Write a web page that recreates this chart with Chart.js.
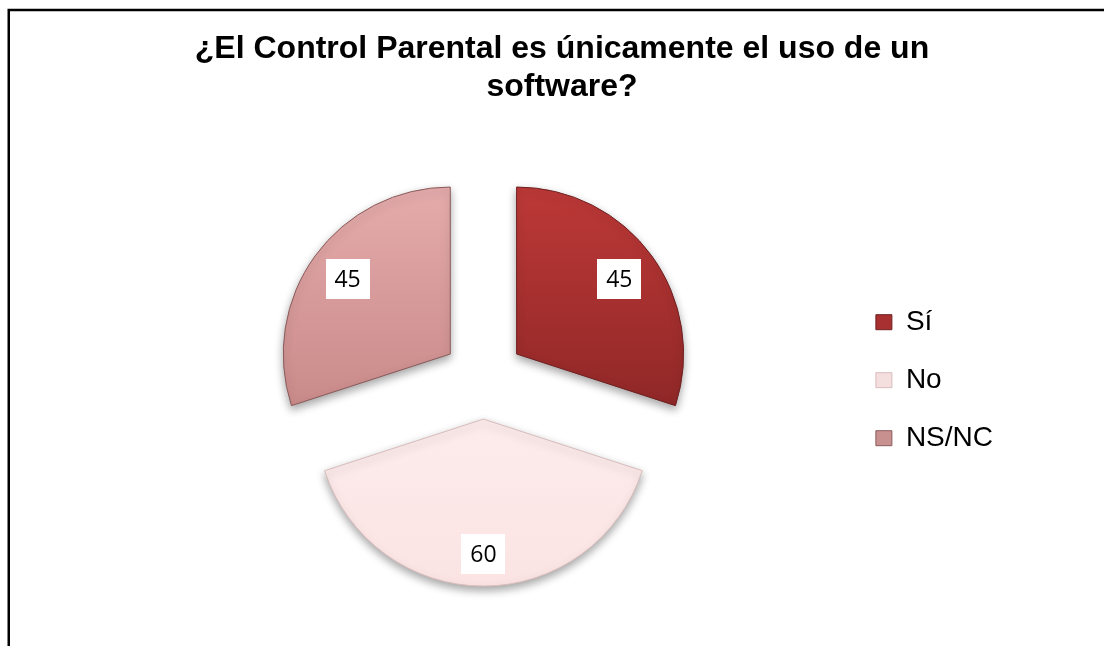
<!DOCTYPE html>
<html>
<head>
<meta charset="utf-8">
<script src="https://cdn.jsdelivr.net/npm/chart.js@4.4.1/dist/chart.umd.min.js"></script>
<style>
  html, body { margin: 0; padding: 0; background: #fff; }
  #wrap { width: 1104px; height: 646px; position: relative; }
</style>
</head>
<body>
<div id="wrap"><canvas id="pie"></canvas></div>
<script>
// data
var labels = ["Sí", "No", "NS/NC"];
var values = [45, 60, 45];
var chartTitle = ["¿El Control Parental es únicamente el uso de un", "software?"];

// colours (top / bottom of each slice, border, legend box)
var topColors = ["#bd3937", "#fdecec", "#e5abab"];
var bottomColors = ["#8f2727", "#fbe3e3", "#c98989"];
var borderColors = ["#6e1f1f", "#d9bcbc", "#8a5a5a"];
var legendColors = ["#a83030", "#f4dede", "#c99090"];

var RADIUS = 167;
var SHIFT = 41;
var labelPos = [0.76, 0.81, 0.76];

function sliceGradient(context) {
  var chart = context.chart;
  var area = chart.chartArea;
  var i = context.dataIndex;
  if (!area) return topColors[i];
  var cy = (area.top + area.bottom) / 2;
  var y0 = i === 1 ? cy : cy - RADIUS;
  var y1 = i === 1 ? cy + RADIUS : cy + RADIUS * 0.35;
  var g = chart.ctx.createLinearGradient(0, y0, 0, y1);
  g.addColorStop(0, topColors[i]);
  g.addColorStop(1, bottomColors[i]);
  return g;
}

// white background and the two frame lines
var frame = {
  id: "frame",
  beforeDraw(chart) {
    var ctx = chart.ctx;
    ctx.save();
    ctx.fillStyle = "#fff";
    ctx.fillRect(0, 0, chart.width, chart.height);
    ctx.strokeStyle = "#000";
    ctx.lineWidth = 2.5;
    ctx.beginPath();
    ctx.moveTo(8.75, chart.height);
    ctx.lineTo(8.75, 10);
    ctx.lineTo(chart.width, 10);
    ctx.stroke();
    ctx.restore();
  }
};

// pull every slice out along its bisector, with a soft shadow
var explode = {
  id: "explode",
  beforeDatasetDraw(chart, args) {
    var ctx = chart.ctx;
    args.meta.data.forEach(function (arc) {
      var mid = (arc.startAngle + arc.endAngle) / 2;
      ctx.save();
      ctx.translate(Math.cos(mid) * SHIFT, Math.sin(mid) * SHIFT);
      ctx.shadowColor = "rgba(0,0,0,0.35)";
      ctx.shadowBlur = 8;
      ctx.shadowOffsetY = 4;
      arc.draw(ctx);
      ctx.restore();
    });
    return false;
  },
  afterDatasetsDraw(chart) {
    var ctx = chart.ctx;
    var meta = chart.getDatasetMeta(0);
    ctx.save();
    ctx.font = "23px 'Open Sans', 'Noto Sans', sans-serif";
    ctx.textAlign = "center";
    ctx.textBaseline = "middle";
    meta.data.forEach(function (arc, i) {
      var mid = (arc.startAngle + arc.endAngle) / 2;
      var r = SHIFT + arc.outerRadius * labelPos[i];
      var x = arc.x + Math.cos(mid) * r;
      var y = arc.y + Math.sin(mid) * r;
      ctx.fillStyle = "#fff";
      ctx.fillRect(Math.round(x - 22), Math.round(y - 20), 44, 40);
      ctx.fillStyle = "#000";
      ctx.fillText(String(values[i]), x, y + 1);
    });
    ctx.restore();
  }
};

new Chart(document.getElementById("pie"), {
  type: "pie",
  data: {
    labels: labels,
    datasets: [
      {
        data: values,
        backgroundColor: sliceGradient,
        borderColor: borderColors,
        borderWidth: 1,
        radius: RADIUS,
      },
    ],
  },
  options: {
    responsive: true,
    maintainAspectRatio: false,
    animation: false,
    layout: { padding: { left: 121, right: 101, top: 0, bottom: 0 } },
    plugins: {
      title: {
        display: true,
        text: chartTitle,
        color: "#000",
        font: { family: "'Liberation Sans', Arial, sans-serif", size: 32, weight: "bold", lineHeight: 1.16 },
        padding: { top: 31, bottom: 5 },
      },
      legend: {
        position: "right",
        align: "center",
        title: { display: true, text: "", padding: { top: 100, bottom: 0 } },
        labels: {
          color: "#000",
          font: { family: "'Liberation Sans', Arial, sans-serif", size: 28 },
          boxWidth: 16,
          boxHeight: 15,
          padding: 30,
          generateLabels: function (chart) {
            return labels.map(function (text, i) {
              return {
                text: text,
                fillStyle: legendColors[i],
                strokeStyle: borderColors[i],
                fontColor: "#000",
                lineWidth: 1,
                index: i,
                hidden: false,
              };
            });
          },
        },
      },
      tooltip: { enabled: false },
    },
  },
  plugins: [frame, explode],
});
</script>
</body>
</html>
